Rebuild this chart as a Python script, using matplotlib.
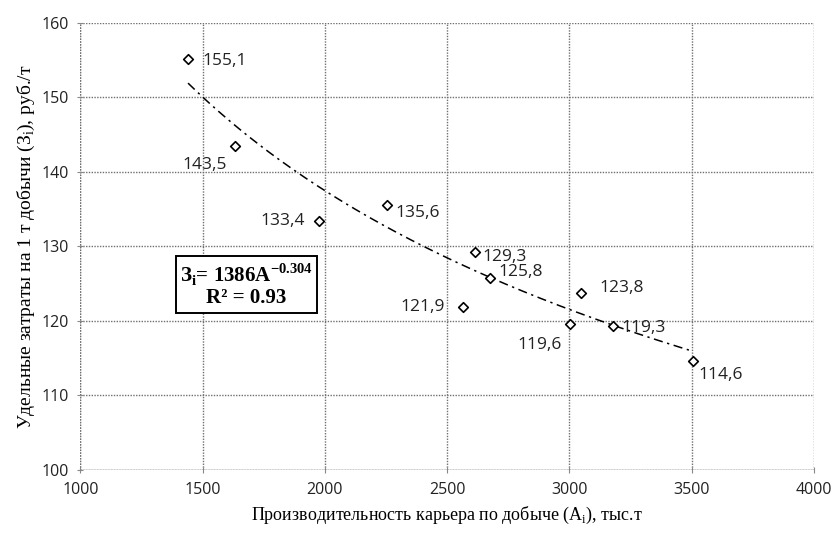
import numpy as np
import matplotlib
matplotlib.use("Agg")
import matplotlib.pyplot as plt

# Data
production = [1440, 1632, 1976, 2254, 2565, 2614, 2675, 3003, 3048, 3179, 3506]
costs = [155.1, 143.5, 133.4, 135.6, 121.9, 129.3, 125.8, 119.6, 123.8, 119.3, 114.6]
labels = ["155,1", "143,5", "133,4", "135,6", "121,9", "129,3", "125,8", "119,6", "123,8", "119,3", "114,6"]
# label offsets in points (dx, dy, ha)
label_offsets = [(10, -1, "left"), (-22, -14, "center"), (-10, 0, "right"), (6, -6, "left"),
                 (-13, 0, "right"), (5, -4, "left"), (6, 4, "left"), (-22, -15, "center"),
                 (13, 3, "left"), (6, -1, "left"), (4, -10, "left")]
fit_a, fit_b = 1386, -0.304
x_ticks = [1000, 1500, 2000, 2500, 3000, 3500, 4000]
y_ticks = [100, 110, 120, 130, 140, 150, 160]

plt.rcParams['mathtext.fontset'] = 'custom'
plt.rcParams['mathtext.rm'] = 'Liberation Serif'
plt.rcParams['mathtext.bf'] = 'Liberation Serif:bold'

fig = plt.figure(figsize=(8.33, 5.34), dpi=100)
ax = fig.add_axes([0.0966, 0.120, 0.8805, 0.837])

# trend line
xf = np.linspace(min(production), max(production), 200)
ax.plot(xf, fit_a * xf ** fit_b, color="black", lw=1.1, linestyle=(0, (6, 3, 1.5, 3)), zorder=3)

ax.scatter(production, costs, marker="D", s=24, facecolors="white", edgecolors="black",
           linewidths=1.2, zorder=4)
for x, y, t, (dx, dy, ha) in zip(production, costs, labels, label_offsets):
    ax.annotate(t, (x, y), xytext=(dx, dy), textcoords="offset points", ha=ha, va="center",
                fontsize=12.5, family="Open Sans", color="#222222")

ax.set_xlim(1000, 4000)
ax.set_ylim(100, 160)
ax.set_xticks(x_ticks)
ax.set_yticks(y_ticks)
ax.grid(True, color="#707070", linestyle=(0, (1, 1)), linewidth=1.0)
for s in ax.spines.values():
    s.set_visible(False)
ax.axhline(100, color="#888888", lw=1.0, zorder=1)
ax.axvline(1000, color="#707070", lw=1.0, linestyle=(0, (1, 1)), zorder=1)
ax.tick_params(direction="inout", length=5, color="#888888", labelsize=11.5, pad=6)
for lbl in ax.get_xticklabels() + ax.get_yticklabels():
    lbl.set_family("Open Sans")
    lbl.set_color("#222222")

ax.set_xlabel("Производительность карьера по добыче (A$_\\mathregular{i}$), тыс.т",
              family="Liberation Serif", fontsize=13, labelpad=5)
ax.set_ylabel("Удельные затраты на 1 т добычи (З$_\\mathregular{i}$), руб./т",
              family="Liberation Serif", fontsize=14, labelpad=3)

ax.text(0.226, 0.414, "З$_\\mathregular{i}$= 1386A$^\\mathregular{-0.304}$\nR² = 0.93",
        transform=ax.transAxes, ha="center", va="center", fontsize=15,
        family="Liberation Serif", fontweight="bold", linespacing=1.05,
        bbox=dict(boxstyle="square,pad=0.2", facecolor="white", edgecolor="black", lw=1.4),
        zorder=5)

fig.savefig("out.png", dpi=100)
